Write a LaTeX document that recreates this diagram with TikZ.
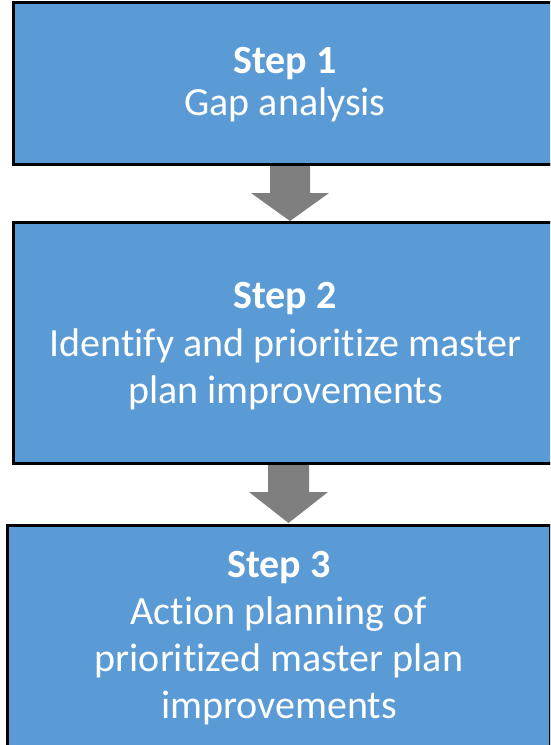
\documentclass[tikz,border=0pt]{standalone}
\usepackage{fontspec}
\setmainfont[Ligatures=NoCommon]{Carlito}
\definecolor{boxblue}{HTML}{5B9BD5}
\definecolor{arrowgray}{HTML}{7F7F7F}
\tikzset{
  stepbox/.style={draw=black, line width=3pt, fill=boxblue, rectangle, anchor=north west, inner sep=0pt, outer sep=0pt},
  steptext/.style={text=white, anchor=base, inner sep=0pt, font=\fontsize{40pt}{48pt}\selectfont},
  flowarrow/.style={fill=arrowgray, draw=none},
}
\begin{document}
\begin{tikzpicture}[x=1pt,y=-1pt]
\useasboundingbox (0,0) rectangle (550,745);
\clip (0,0) rectangle (550,745);
% boxes
\node[stepbox, minimum width=544.5pt, minimum height=161.5pt] (b1) at (13.5,2.5) {};
\node[stepbox, minimum width=544.5pt, minimum height=240.5pt] (b2) at (13.5,222.5) {};
\node[stepbox, minimum width=543.5pt, minimum height=240pt] (b3) at (7,525) {};
% texts
\node[steptext] (t1a) at (285,73) {\bfseries Step 1};
\node[steptext] (t1b) at (285,115) {Gap analysis};
\node[steptext] (t2a) at (285,308) {\bfseries Step 2};
\node[steptext] (t2b) at (285.5,356) {Identify and prioritize master};
\node[steptext] (t2c) at (285.5,403) {plan improvements};
\node[steptext] (t3a) at (279,577) {\bfseries Step 3};
\node[steptext] (t3b) at (279,624) {Action planning of};
\node[steptext] (t3c) at (279,671) {prioritized master plan};
\node[steptext] (t3d) at (279,718) {improvements};
% arrows
\coordinate (a1s) at (290,165.5);
\coordinate (a1t) at (290,221);
\coordinate (a2s) at (288.5,464.5);
\coordinate (a2t) at (288.5,523);
\fill[flowarrow] ([xshift=-20pt]a1s) -- ([xshift=20pt]a1s) -- ([xshift=20pt]a1s |- 0,193) -- ([xshift=39pt]a1s |- 0,193) -- (a1t) -- ([xshift=-39pt]a1s |- 0,193) -- ([xshift=-20pt]a1s |- 0,193) -- cycle;
\fill[flowarrow] ([xshift=-20.5pt]a2s) -- ([xshift=20.5pt]a2s) -- ([xshift=20.5pt]a2s |- 0,492) -- ([xshift=39.5pt]a2s |- 0,492) -- (a2t) -- ([xshift=-39.5pt]a2s |- 0,492) -- ([xshift=-20.5pt]a2s |- 0,492) -- cycle;
% redraw box borders over arrow ends
\draw[line width=3pt] (b1.south west) -- (b1.south east);
\draw[line width=3pt] (b2.north west) -- (b2.north east);
\draw[line width=3pt] (b2.south west) -- (b2.south east);
\draw[line width=3pt] (b3.north west) -- (b3.north east);
\end{tikzpicture}
\end{document}
